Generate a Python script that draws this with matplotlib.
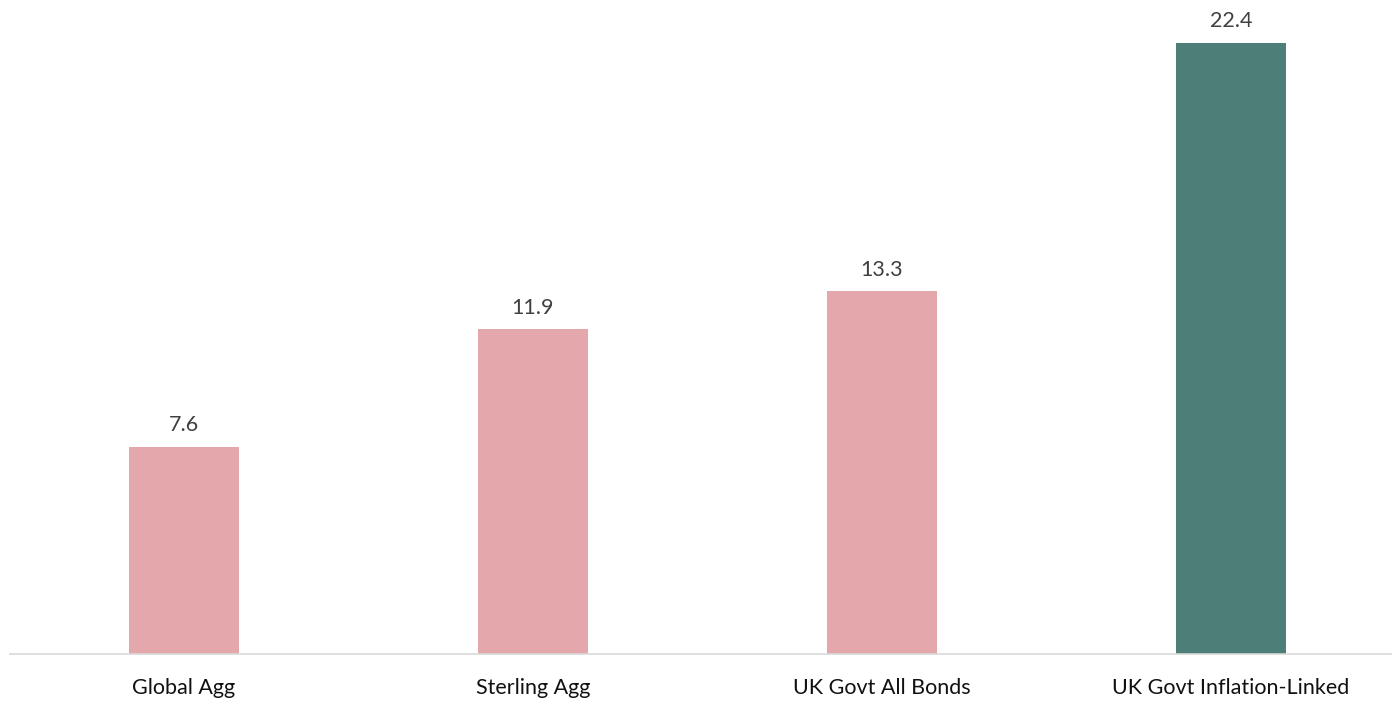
import matplotlib; matplotlib.use("Agg")
import matplotlib.pyplot as plt
import numpy as np

categories = ["Global Agg", "Sterling Agg", "UK Govt All Bonds", "UK Govt Inflation-Linked"]
values = [7.6, 11.9, 13.3, 22.4]
colors = ["#E3A7AC", "#E3A7AC", "#E3A7AC", "#4D7F78"]

plt.rcParams["font.family"] = ["Lato", "DejaVu Sans"]

fig = plt.figure(figsize=(13.92, 7.01), dpi=100)
ax = fig.add_axes([9.5 / 1392, 47 / 701, 1396 / 1392, 654 / 701])
x = np.arange(len(categories))
ax.bar(x, values, width=0.315, color=colors)
for xi, v in zip(x, values):
    ax.annotate(f"{v:.1f}", (xi, v), xytext=(0, 8.3), textcoords="offset points",
                ha="center", va="bottom", fontsize=15.5, color="#404040")

ax.set_xlim(-0.5, 3.5)
ax.set_ylim(0, 23.97)
ax.set_xticks(x)
ax.set_xticklabels(categories, fontsize=15.5, color="#111111")
ax.tick_params(axis="x", length=0, pad=17)
ax.set_yticks([])
for s in ["top", "right", "left"]:
    ax.spines[s].set_visible(False)
ax.spines["bottom"].set_color("#D9D9D9")
ax.spines["bottom"].set_linewidth(1.2)

fig.savefig("out.png", dpi=100)
